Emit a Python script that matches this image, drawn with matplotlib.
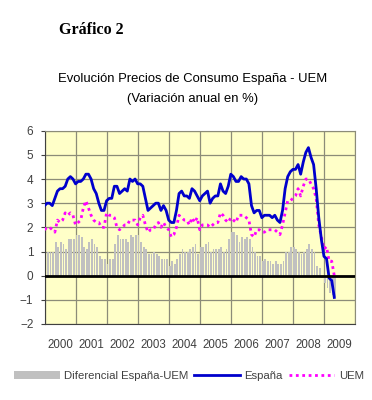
import numpy as np
import matplotlib as mpl
mpl.use("Agg")
import matplotlib.pyplot as plt

# monthly annual rates, Jan 2000 - May 2009
espana = [2.9, 3.0, 3.0, 2.9, 3.2, 3.5, 3.6, 3.6, 3.7, 4.0, 4.1, 4.0,
          3.8, 3.9, 3.9, 4.0, 4.2, 4.2, 4.0, 3.6, 3.4, 3.0, 2.7, 2.7,
          3.1, 3.2, 3.2, 3.7, 3.7, 3.4, 3.5, 3.6, 3.5, 4.0, 3.9, 4.0,
          3.8, 3.8, 3.7, 3.2, 2.7, 2.8, 2.9, 3.0, 3.0, 2.7, 2.9, 2.7,
          2.3, 2.2, 2.2, 2.7, 3.4, 3.5, 3.3, 3.3, 3.2, 3.6, 3.5, 3.3,
          3.1, 3.3, 3.4, 3.5, 3.0, 3.2, 3.3, 3.3, 3.8, 3.5, 3.4, 3.7,
          4.2, 4.1, 3.9, 3.9, 4.1, 4.0, 4.0, 3.8, 2.9, 2.6, 2.7, 2.7,
          2.4, 2.5, 2.5, 2.5, 2.4, 2.5, 2.3, 2.2, 2.7, 3.6, 4.1, 4.3,
          4.4, 4.4, 4.6, 4.2, 4.7, 5.1, 5.3, 4.9, 4.6, 3.6, 2.4, 1.5,
          0.8, 0.7, -0.1, -0.2, -0.9]
uem = [1.9, 2.0, 2.0, 1.9, 1.8, 2.3, 2.2, 2.3, 2.6, 2.5, 2.6, 2.5,
       2.1, 2.2, 2.3, 2.8, 3.1, 2.8, 2.5, 2.3, 2.2, 2.2, 2.0, 2.0,
       2.6, 2.5, 2.5, 2.4, 2.0, 1.9, 2.0, 2.1, 2.1, 2.3, 2.3, 2.3,
       2.1, 2.4, 2.5, 2.1, 1.8, 1.9, 1.9, 2.1, 2.2, 2.0, 2.2, 2.0,
       1.9, 1.6, 1.7, 2.0, 2.5, 2.4, 2.3, 2.3, 2.1, 2.4, 2.2, 2.4,
       1.9, 2.1, 2.1, 2.1, 2.0, 2.1, 2.2, 2.2, 2.6, 2.5, 2.3, 2.2,
       2.4, 2.3, 2.2, 2.5, 2.5, 2.5, 2.4, 2.3, 1.7, 1.6, 1.9, 1.9,
       1.8, 1.8, 1.9, 1.9, 1.9, 1.9, 1.8, 1.7, 2.1, 2.6, 3.1, 3.1,
       3.2, 3.3, 3.6, 3.3, 3.7, 4.0, 4.0, 3.8, 3.6, 3.2, 2.1, 1.6,
       1.1, 1.2, 0.6, 0.6, 0.0]
years = ['2000', '2001', '2002', '2003', '2004', '2005', '2006', '2007', '2008', '2009']

espana = np.array(espana)
uem = np.array(uem)
diferencial = espana - uem
x = np.arange(len(espana))

plt.rcParams['font.family'] = ['Liberation Sans', 'DejaVu Sans']

fig = plt.figure(figsize=(3.72, 4.0), dpi=100)
ax = fig.add_axes([44.5/372, 1-324/400, (355-44.5)/372, (324-130.7)/400])
ax.set_facecolor('#FFFFC8')

ax.bar(x, diferencial, width=0.7, align='edge', color='#C0C0C0', zorder=2,
       label='Diferencial España-UEM')
ax.plot(x, espana, color='#0000CC', lw=2, zorder=4, label='España')
ax.plot(x, uem, color='#FF00FF', lw=2, ls=(0, (1, 1.3)), zorder=3, label='UEM')
ax.axhline(0, color='black', lw=2, zorder=5)

ax.set_xlim(0, 12*len(years))
ax.set_ylim(-2, 6)
ax.set_yticks(range(-2, 7))
ax.set_xticks(np.arange(0, 12*len(years)+1, 12))
ax.set_xticklabels([])
ax.set_xticks(np.arange(6, 12*len(years), 12), minor=True)
ax.set_xticklabels(years, minor=True)
ax.tick_params(axis='x', which='both', length=0, pad=11, labelsize=8.3, labelcolor='#404040')
ax.tick_params(axis='y', length=3, pad=5, labelsize=8.5, labelcolor='#404040', color='#404040')
ax.grid(True, which='major', color='#8C8C78', lw=0.9, zorder=1)
ax.set_axisbelow(True)
for s in ['top', 'right']:
    ax.spines[s].set_color('#8C8C78')
for s in ['left', 'bottom']:
    ax.spines[s].set_color('#404040')

fig.text(59/372, 1-30/400, 'Gráfico 2', family='Liberation Serif', weight='bold',
         fontsize=11.5, va='center', ha='left')
fig.text(193/372, 1-79/400, 'Evolución Precios de Consumo España - UEM', fontsize=9.4,
         ha='center', va='center')
fig.text(193/372, 1-99/400, '(Variación anual en %)', fontsize=9.4, ha='center', va='center')

h, l = ax.get_legend_handles_labels()
order = [2, 0, 1]
fig.legend([h[i] for i in order], [l[i] for i in order], loc='center',
           bbox_to_anchor=(189/372, 1-376/400), ncol=3, frameon=False, fontsize=8.2,
           handlelength=4, handletextpad=0.4, columnspacing=0.5, handleheight=0.6,
           labelcolor='#404040')

fig.savefig('out.png', dpi=100)
